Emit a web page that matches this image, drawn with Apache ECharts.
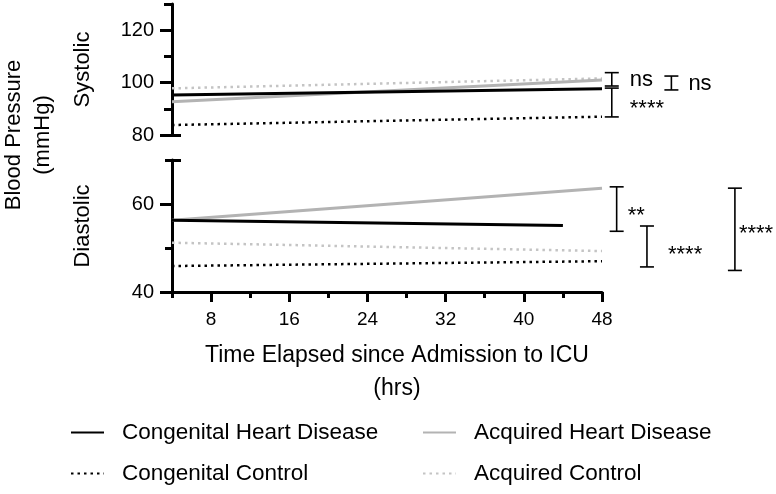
<!DOCTYPE html>
<html>
<head>
<meta charset="utf-8">
<script src="https://cdn.jsdelivr.net/npm/echarts@6/dist/echarts.min.js"></script>
<style>
html,body{margin:0;padding:0;background:#fff;}
#c{width:776px;height:494px;}
</style>
</head>
<body>
<div id="c"></div>
<script>
// ---- data ----
const hours = [4, 48];
const hoursCHDDia = [4, 44];
const sysCHD = [95.3, 97.7];
const sysAHD = [92.7, 101.0];
const sysCC  = [83.8, 87.0];
const sysAC  = [97.8, 101.6];
const diaCHD = [56.3, 55.1];
const diaAHD = [56.3, 63.6];
const diaCC  = [45.9, 47.0];
const diaAC  = [51.2, 49.3];

const xTicks = [8, 16, 24, 32, 40, 48];
const xMinor = [4, 12, 20, 28, 36, 44];
const sysTicks = [80, 100, 120];
const sysMinor = [90, 110, 130];
const diaTicks = [40, 60];
const diaMinor = [50, 70];

// significance brackets (x position in hours, low, high, label)
const sysBrX = [49.0, 49.0, 55.1];
const sysBrLow = [98.7, 86.9, 97.2];
const sysBrHigh = [103.8, 97.9, 102.5];
const sysBrLabel = ['ns', '****', 'ns'];
const diaBrX = [49.5, 52.6, 61.6];
const diaBrLow = [53.8, 45.7, 44.9];
const diaBrHigh = [63.9, 55.0, 63.6];
const diaBrLabel = ['**', '****', '****'];

// ---- layout/styling ----
const FONT = "'Liberation Sans', Arial, Helvetica, sans-serif";
const sysLabelDx = [18, 18, 17];
const diaLabelDx = [11, 21, 4];
const sysLabelDy = [1, 6, 1];
const diaLabelDy = [7, 8, 5];

const zip = (xs, ys) => xs.map((x, i) => [x, ys[i]]);
const brData = (xs, lo, hi, lab) => xs.map((x, i) => [x, lo[i], hi[i], lab[i]]);

function bracketRenderer(dxs, dys) {
  return function (params, api) {
    const i = params.dataIndex;
    const p1 = api.coord([api.value(0), api.value(1)]);
    const p2 = api.coord([api.value(0), api.value(2)]);
    const lab = api.value(3);
    const hw = 7;
    const st = {stroke: '#000', lineWidth: 1.6};
    return {
      type: 'group',
      children: [
        {type: 'line', shape: {x1: p1[0], y1: p1[1], x2: p2[0], y2: p2[1]}, style: st},
        {type: 'line', shape: {x1: p1[0] - hw, y1: p1[1], x2: p1[0] + hw, y2: p1[1]}, style: st},
        {type: 'line', shape: {x1: p2[0] - hw, y1: p2[1], x2: p2[0] + hw, y2: p2[1]}, style: st},
        {type: 'text', x: p1[0] + dxs[i], y: (p1[1] + p2[1]) / 2 + dys[i],
          style: {text: lab, fill: '#000', font: '22px ' + FONT, textAlign: 'left', textVerticalAlign: 'middle'}}
      ]
    };
  };
}

const axLine = {show: true, lineStyle: {color: '#000', width: 3}};
const noLine = {show: false};

function xAxisMain(gridIndex) {
  return {
    type: 'value', gridIndex, min: 4, max: 48, position: 'bottom',
    axisLine: axLine,
    axisTick: {show: true, customValues: xTicks, length: 10, lineStyle: {color: '#000', width: 3}},
    axisLabel: {show: true, customValues: xTicks, color: '#000', fontSize: 19, fontFamily: FONT, margin: 18},
    splitLine: {show: false},
    name: 'Time Elapsed since Admission to ICU\n(hrs)',
    nameLocation: 'middle', nameGap: 47,
    nameTextStyle: {color: '#000', fontSize: 23, fontFamily: FONT, lineHeight: 33, padding: [0, 0, 0, 20]}
  };
}

const legendCommon = {
  top: 421, orient: 'vertical', padding: 0, itemGap: 18, itemWidth: 33, itemHeight: 14,
  itemStyle: {opacity: 0},
  textStyle: {color: '#000', fontSize: 22.5, fontFamily: FONT, padding: [0, 0, 0, 13]}
};

const option = {
  animation: false,
  backgroundColor: '#fff',
  grid: [
    {left: 172, top: 4, width: 430, height: 131},
    {left: 172, top: 160, width: 430, height: 132}
  ],
  xAxis: [
    {type: 'value', gridIndex: 0, min: 4, max: 48, show: false},
    xAxisMain(1),
    {type: 'value', gridIndex: 1, min: 4, max: 48, position: 'bottom',
      axisLine: noLine,
      axisTick: {show: true, customValues: xMinor, length: 6, lineStyle: {color: '#000', width: 3}},
      axisLabel: {show: false}, splitLine: {show: false}}
  ],
  yAxis: [
    {type: 'value', gridIndex: 0, min: 80, max: 130, position: 'left',
      axisLine: axLine,
      axisTick: {show: true, customValues: sysTicks, length: 12, lineStyle: {color: '#000', width: 3}},
      axisLabel: {show: true, customValues: sysTicks, color: '#000', fontSize: 20, fontFamily: FONT, margin: 18},
      splitLine: {show: false},
      name: 'Systolic', nameLocation: 'middle', nameGap: 78, nameRotate: 90,
      nameTextStyle: {color: '#000', fontSize: 22, fontFamily: FONT}},
    {type: 'value', gridIndex: 0, min: 80, max: 130, position: 'left',
      axisLine: noLine,
      axisTick: {show: true, customValues: sysMinor, length: 8, lineStyle: {color: '#000', width: 3}},
      axisLabel: {show: false}, splitLine: {show: false}},
    {type: 'value', gridIndex: 0, min: 80, max: 130, position: 'left',
      axisLine: noLine,
      axisTick: {show: true, inside: true, customValues: [80], length: 9, lineStyle: {color: '#000', width: 3}},
      axisLabel: {show: false}, splitLine: {show: false}},
    {type: 'value', gridIndex: 1, min: 40, max: 70, position: 'left',
      axisLine: axLine,
      axisTick: {show: true, customValues: diaTicks, length: 12, lineStyle: {color: '#000', width: 3}},
      axisLabel: {show: true, customValues: diaTicks, color: '#000', fontSize: 20, fontFamily: FONT, margin: 18},
      splitLine: {show: false},
      name: 'Diastolic', nameLocation: 'middle', nameGap: 78, nameRotate: 90,
      nameTextStyle: {color: '#000', fontSize: 22, fontFamily: FONT}},
    {type: 'value', gridIndex: 1, min: 40, max: 70, position: 'left',
      axisLine: noLine,
      axisTick: {show: true, customValues: diaMinor, length: 7, lineStyle: {color: '#000', width: 3}},
      axisLabel: {show: false}, splitLine: {show: false}},
    {type: 'value', gridIndex: 1, min: 40, max: 70, position: 'left',
      axisLine: noLine,
      axisTick: {show: true, inside: true, customValues: [70], length: 9, lineStyle: {color: '#000', width: 3}},
      axisLabel: {show: false}, splitLine: {show: false}}
  ],
  graphic: [
    {type: 'text', x: 28, y: 135, rotation: Math.PI / 2,
      style: {text: 'Blood Pressure\n(mmHg)', fill: '#000', font: '22px ' + FONT,
        textAlign: 'center', textVerticalAlign: 'middle', lineHeight: 29}}
  ],
  legend: [
    Object.assign({left: 70, data: ['Congenital Heart Disease', 'Congenital Control']}, legendCommon),
    Object.assign({left: 422, data: ['Acquired Heart Disease', 'Acquired Control']}, legendCommon)
  ],
  series: [
    {name: 'Congenital Control', type: 'line', xAxisIndex: 0, yAxisIndex: 0, symbol: 'none',
      data: zip(hours, sysCC), lineStyle: {color: '#000', width: 2.5, type: [2.5, 4]}, itemStyle: {color: '#000'}},
    {name: 'Acquired Control', type: 'line', xAxisIndex: 0, yAxisIndex: 0, symbol: 'none',
      data: zip(hours, sysAC), lineStyle: {color: '#c4c4c4', width: 2.5, type: [2.5, 4]}, itemStyle: {color: '#c4c4c4'}},
    {name: 'Acquired Heart Disease', type: 'line', xAxisIndex: 0, yAxisIndex: 0, symbol: 'none',
      data: zip(hours, sysAHD), lineStyle: {color: '#b3b3b3', width: 3}, itemStyle: {color: '#b3b3b3'}},
    {name: 'Congenital Heart Disease', type: 'line', xAxisIndex: 0, yAxisIndex: 0, symbol: 'none',
      data: zip(hours, sysCHD), lineStyle: {color: '#000', width: 3}, itemStyle: {color: '#000'}},

    {name: 'Congenital Control', type: 'line', xAxisIndex: 1, yAxisIndex: 3, symbol: 'none',
      data: zip(hours, diaCC), lineStyle: {color: '#000', width: 2.5, type: [2.5, 4]}, itemStyle: {color: '#000'}},
    {name: 'Acquired Control', type: 'line', xAxisIndex: 1, yAxisIndex: 3, symbol: 'none',
      data: zip(hours, diaAC), lineStyle: {color: '#c4c4c4', width: 2.5, type: [2.5, 4]}, itemStyle: {color: '#c4c4c4'}},
    {name: 'Acquired Heart Disease', type: 'line', xAxisIndex: 1, yAxisIndex: 3, symbol: 'none',
      data: zip(hours, diaAHD), lineStyle: {color: '#b3b3b3', width: 3}, itemStyle: {color: '#b3b3b3'}},
    {name: 'Congenital Heart Disease', type: 'line', xAxisIndex: 1, yAxisIndex: 3, symbol: 'none',
      data: zip(hoursCHDDia, diaCHD), lineStyle: {color: '#000', width: 3}, itemStyle: {color: '#000'}},

    {type: 'custom', xAxisIndex: 0, yAxisIndex: 0, clip: false, silent: true,
      data: brData(sysBrX, sysBrLow, sysBrHigh, sysBrLabel),
      dimensions: ['x', 'lo', 'hi', {name: 'label', type: 'ordinal'}],
      encode: {x: 0, y: [1, 2]},
      renderItem: bracketRenderer(sysLabelDx, sysLabelDy)},
    {type: 'custom', xAxisIndex: 1, yAxisIndex: 3, clip: false, silent: true,
      data: brData(diaBrX, diaBrLow, diaBrHigh, diaBrLabel),
      dimensions: ['x', 'lo', 'hi', {name: 'label', type: 'ordinal'}],
      encode: {x: 0, y: [1, 2]},
      renderItem: bracketRenderer(diaLabelDx, diaLabelDy)}
  ]
};

const chart = echarts.init(document.getElementById('c'), null, {renderer: 'canvas'});
chart.setOption(option);
</script>
</body>
</html>
